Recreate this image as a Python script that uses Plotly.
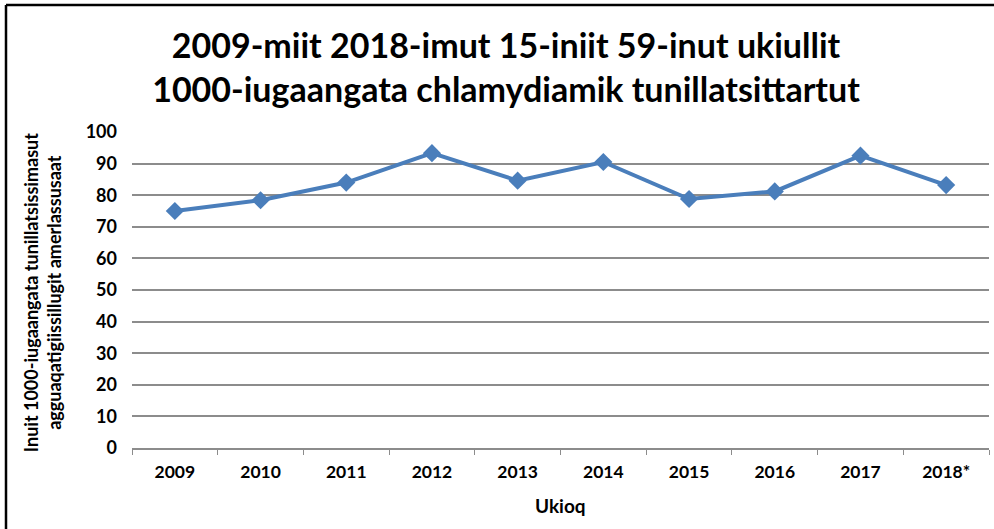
import plotly.graph_objects as go

YEARS = ["2009", "2010", "2011", "2012", "2013", "2014", "2015", "2016", "2017", "2018*"]
RATES = [75.0, 78.4, 84.0, 93.3, 84.6, 90.5, 78.8, 81.2, 92.5, 83.2]
Y_TICKS = [0, 10, 20, 30, 40, 50, 60, 70, 80, 90, 100]

TITLE = "2009-miit 2018-imut 15-iniit 59-inut ukiullit<br>1000-iugaangata chlamydiamik tunillatsittartut"
Y_TITLE = "Inuit 1000-iugaangata tunillatsissimasut<br>agguaqatigiissillugit amerlassusaat"
X_TITLE = "Ukioq"

LINE_COLOR = "#4A7EBB"
GRID_COLOR = "#8C8C8C"
TEXT_COLOR = "#000000"
FONT = "Lato, 'Open Sans', sans-serif"

fig = go.Figure(
    go.Scatter(
        x=YEARS,
        y=RATES,
        mode="lines+markers",
        line=dict(color=LINE_COLOR, width=4),
        marker=dict(symbol="diamond", size=14, color=LINE_COLOR),
        showlegend=False,
    )
)

fig.update_layout(
    width=994,
    height=529,
    margin=dict(l=132, r=5, t=132, b=81),
    paper_bgcolor="white",
    plot_bgcolor="white",
    font=dict(family=FONT, size=15, color=TEXT_COLOR, weight="bold"),
    title=dict(
        text=TITLE,
        x=506 / 994,
        xanchor="center",
        y=1 - 58 / 529,
        yanchor="middle",
        font=dict(family=FONT, size=34, color=TEXT_COLOR, weight="bold"),
    ),
    shapes=[
        dict(type="line", xref="paper", yref="paper",
             x0=-126 / 857, x1=1.1, y0=1 + 127 / 316, y1=1 + 127 / 316,
             line=dict(color="black", width=2.5)),
        dict(type="line", xref="paper", yref="paper",
             x0=-126 / 857, x1=-126 / 857, y0=-0.3, y1=1 + 127 / 316,
             line=dict(color="black", width=2.5)),
    ],
    annotations=[
        dict(
            text=Y_TITLE,
            xref="paper", yref="paper",
            x=-90 / 857, y=0.49,
            xanchor="center", yanchor="middle",
            textangle=-90,
            showarrow=False,
            font=dict(family=FONT, size=18, color=TEXT_COLOR, weight="bold"),
        ),
        dict(
            text=X_TITLE,
            xref="paper", yref="paper",
            x=0.5, y=-57 / 316,
            xanchor="center", yanchor="middle",
            showarrow=False,
            font=dict(family=FONT, size=19, color=TEXT_COLOR, weight="bold"),
        ),
    ],
)

fig.update_xaxes(
    type="category",
    range=[-0.5, len(YEARS) - 0.5],
    showline=True,
    linecolor=GRID_COLOR,
    linewidth=1.5,
    ticks="outside",
    tickson="boundaries",
    ticklen=5,
    tickcolor=GRID_COLOR,
    showgrid=False,
    ticklabelstandoff=7,
    tickfont=dict(size=17.5, weight="bold"),
)
fig.update_yaxes(
    range=[0, 100],
    tickvals=Y_TICKS,
    showgrid=True,
    gridcolor=GRID_COLOR,
    gridwidth=1.5,
    zeroline=False,
    showline=False,
    ticklabelstandoff=14,
    tickfont=dict(size=18, weight="bold"),
)

# drop the default page margin so the figure sits at the window's corner
fig.write_html(
    "out.html",
    config={"displayModeBar": False},
    post_script="document.body.style.margin='0';",
)
